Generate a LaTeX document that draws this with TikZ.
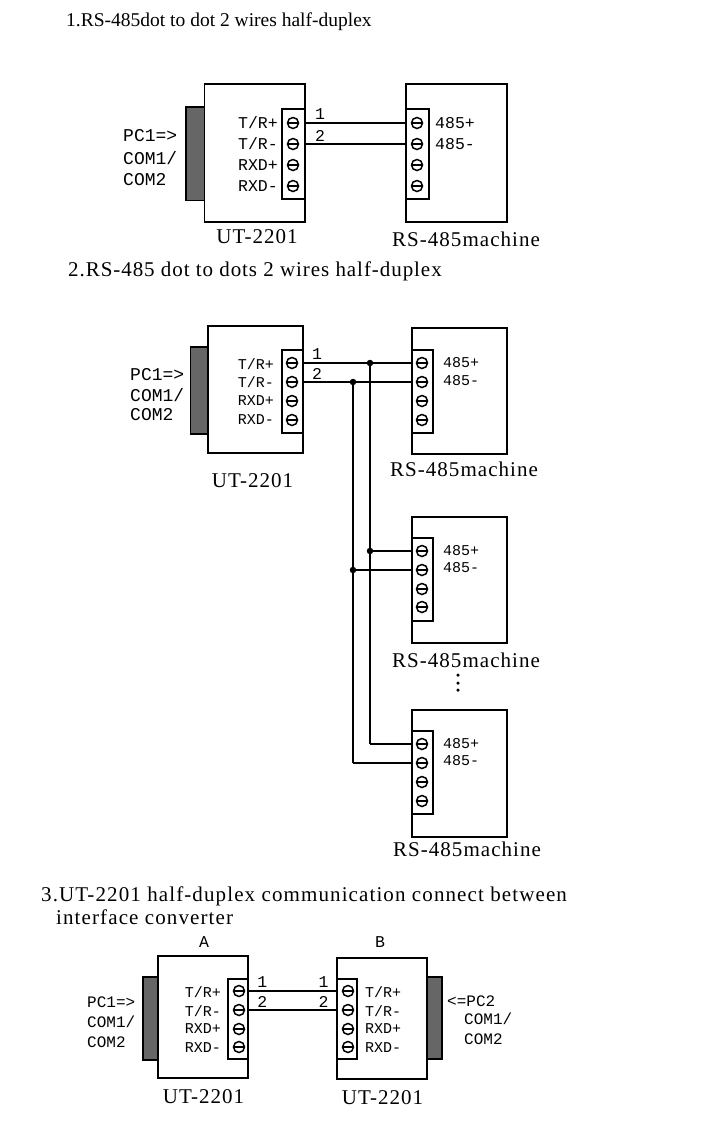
\documentclass[tikz,border=0pt]{standalone}
\usepackage{fontspec}
\setmainfont{Liberation Serif}
\setmonofont{Liberation Mono}
\usepackage{tikz}
\usetikzlibrary{arrows}
\tikzset{
  box/.style={draw, line width=1.6pt, fill=white},
  plug/.style={draw, line width=1.4pt, fill=black!60},
  screw/.style={draw, circle, line width=1.5pt, inner sep=0pt, minimum size=11pt, fill=white,
    path picture={\fill [black] ([yshift=1.3pt]path picture bounding box.west) rectangle ([yshift=-1.3pt]path picture bounding box.east);}},
  wire/.style={line width=1.8pt},
  dot/.style={circle, fill=black, inner sep=0pt, minimum size=6.5pt},
  vdot/.style={circle, fill=black, inner sep=0pt, minimum size=3.5pt},
  lab/.style={font=\ttfamily\fontsize{16.5}{16.5}\selectfont, inner sep=0pt},
  small/.style={font=\ttfamily\fontsize{15}{15}\selectfont, inner sep=0pt},
  pclab/.style={font=\ttfamily\fontsize{18}{18}\selectfont, inner sep=0pt, anchor=west},
  pcsmall/.style={font=\ttfamily\fontsize{16}{16}\selectfont, inner sep=0pt, anchor=west},
  title/.style={font=\fontsize{21}{21}\selectfont\addfontfeature{LetterSpace=5}, inner sep=0pt},
  head/.style={font=\fontsize{21}{21}\selectfont\addfontfeature{LetterSpace=4.5}, inner sep=0pt, anchor=base west},
  headwide/.style={head, font=\fontsize{21}{21}\selectfont\addfontfeature{LetterSpace=5.3}}
}
\begin{document}
\begin{tikzpicture}[x=1pt, y=-1pt]
  \path [use as bounding box] (0,0) rectangle (702,1128);
  % headings
  \node [head, font=\fontsize{19.5}{19.5}\selectfont] (t1) at (66,26) {1.RS-485dot to dot 2 wires half-duplex};
  \node [head] (t2) at (68,276) {2.RS-485 dot to dots 2 wires half-duplex};
  \node [headwide] (t3) at (41,901) {3.UT-2201 half-duplex communication connect between};
  \node [headwide] (t4) at (56,924) {interface converter};
  % first picture
  \draw [plug] (186,107) rectangle (204.5,200.5);
  \draw [box] (204.5,84) rectangle (305,222);
  \draw [box] (282,109) rectangle (305,199);
  \draw [box] (406,84) rectangle (507,222);
  \draw [box] (406,109) rectangle (429,199);
  \foreach \i/\y in {1/123,2/144,3/165,4/186} {
    \node [screw] (a\i) at (293,\y) {};
    \node [screw] (b\i) at (417,\y) {};
  }
  \coordinate (ae1) at (305,123);
  \coordinate (ae2) at (305,144);
  \coordinate (be1) at (406,123);
  \coordinate (be2) at (406,144);
  \draw [wire] (ae1) to node [pos=0.15, above=2.5pt, lab] {1} (be1);
  \draw [wire] (ae2) to node [pos=0.15, above=2pt, lab] {2} (be2);
  \node [lab, anchor=east] (al1) at (278,123) {T/R+};
  \node [lab, anchor=east] (al2) at (278,144) {T/R-};
  \node [lab, anchor=east] (al3) at (278,165) {RXD+};
  \node [lab, anchor=east] (al4) at (278,186) {RXD-};
  \node [lab, anchor=west] (bl1) at (435,123) {485+};
  \node [lab, anchor=west] (bl2) at (435,144) {485-};
  \node [pclab] (pa1) at (123,136) {PC1=>};
  \node [pclab] (pa2) at (123,158) {COM1/};
  \node [pclab] (pa3) at (123,180) {COM2};
  \node [title] (ca) at (257,237) {UT-2201};
  \node [title] (cb) at (466,239) {RS-485machine};
  % second picture
  \draw [plug] (190.5,347) rectangle (208,434);
  \draw [box] (208,326) rectangle (303,453);
  \draw [box] (282,350) rectangle (303,433);
  \draw [box] (412,328) rectangle (507,454);
  \draw [box] (412,350) rectangle (433,433);
  \draw [box] (412,517) rectangle (507,643);
  \draw [box] (412,538) rectangle (433,621);
  \draw [box] (412,710) rectangle (507,837);
  \draw [box] (412,731) rectangle (433,814);
  \foreach \i/\y in {1/363,2/382,3/401,4/420} {
    \node [screw] (c\i) at (292,\y) {};
    \node [screw] (d\i) at (422,\y) {};
  }
  \foreach \i/\y in {1/551,2/570,3/589,4/607} {
    \node [screw] (e\i) at (422,\y) {};
  }
  \foreach \i/\y in {1/744,2/763,3/782,4/801} {
    \node [screw] (f\i) at (422,\y) {};
  }
  \coordinate (ce1) at (303,363);
  \coordinate (ce2) at (303,382);
  \coordinate (de1) at (412,363);
  \coordinate (de2) at (412,382);
  \coordinate (ee1) at (412,551);
  \coordinate (ee2) at (412,570);
  \coordinate (fe1) at (412,744);
  \coordinate (fe2) at (412,763);
  \node [dot] (j1) at (370,363) {};
  \node [dot] (j2) at (353,382) {};
  \node [dot] (j3) at (370,551) {};
  \node [dot] (j4) at (353,570) {};
  \coordinate (k1) at (370,744);
  \coordinate (k2) at (353,763);
  \draw [wire] (ce1) to node [pos=0.13, above=3pt, lab] {1} (de1);
  \draw [wire] (ce2) to node [pos=0.13, above=2pt, lab] {2} (de2);
  \draw [wire] (j1) to (j3);
  \draw [wire] (j2) to (j4);
  \draw [wire] (j3) to (ee1);
  \draw [wire] (j4) to (ee2);
  \draw [wire] (j3) to (k1);
  \draw [wire] (j4) to (k2);
  \draw [wire] (k1) to (fe1);
  \draw [wire] (k2) to (fe2);
  \node [small, anchor=east] (cl1) at (274,364) {T/R+};
  \node [small, anchor=east] (cl2) at (274,382) {T/R-};
  \node [small, anchor=east] (cl3) at (274,401) {RXD+};
  \node [small, anchor=east] (cl4) at (274,420) {RXD-};
  \node [small, anchor=west] (dl1) at (443,363) {485+};
  \node [small, anchor=west] (dl2) at (443,381) {485-};
  \node [small, anchor=west] (el1) at (443,551) {485+};
  \node [small, anchor=west] (el2) at (443,568) {485-};
  \node [small, anchor=west] (fl1) at (443,744) {485+};
  \node [small, anchor=west] (fl2) at (443,761) {485-};
  \node [pclab] (pc1) at (130,375) {PC1=>};
  \node [pclab] (pc2) at (130,395) {COM1/};
  \node [pclab] (pc3) at (130,415) {COM2};
  \node [title] (cc) at (252.5,481) {UT-2201};
  \node [title] (cd) at (464,469) {RS-485machine};
  \node [title] (ce) at (466,660) {RS-485machine};
  \node [title] (cf) at (467,849) {RS-485machine};
  \node [vdot] (v1) at (458,675) {};
  \node [vdot] (v2) at (458,683) {};
  \node [vdot] (v3) at (458,690) {};
  % third picture
  \draw [plug] (143,977) rectangle (158,1060);
  \draw [box] (158,956) rectangle (248,1078);
  \draw [box] (228,979) rectangle (248,1059);
  \draw [plug] (427,977) rectangle (442,1059);
  \draw [box] (337,958) rectangle (427,1079);
  \draw [box] (337,979) rectangle (357,1059);
  \foreach \i/\y in {1/991,2/1010,3/1029,4/1047} {
    \node [screw] (g\i) at (239,\y) {};
    \node [screw] (h\i) at (348,\y) {};
  }
  \coordinate (ge1) at (248,991);
  \coordinate (ge2) at (248,1010);
  \coordinate (he1) at (337,991);
  \coordinate (he2) at (337,1010);
  \draw [wire] (ge1) to node [pos=0.16, above=3pt, lab] {1} node [pos=0.85, above=3pt, lab] {1} (he1);
  \draw [wire] (ge2) to node [pos=0.16, above=2pt, lab] {2} node [pos=0.85, above=2pt, lab] {2} (he2);
  \node [small, anchor=east] (gl1) at (221,992) {T/R+};
  \node [small, anchor=east] (gl2) at (221,1011) {T/R-};
  \node [small, anchor=east] (gl3) at (221,1029) {RXD+};
  \node [small, anchor=east] (gl4) at (221,1048) {RXD-};
  \node [small, anchor=west] (hl1) at (365,992) {T/R+};
  \node [small, anchor=west] (hl2) at (365,1011) {T/R-};
  \node [small, anchor=west] (hl3) at (365,1029) {RXD+};
  \node [small, anchor=west] (hl4) at (365,1048) {RXD-};
  \node [pcsmall] (pg1) at (87,1002) {PC1=>};
  \node [pcsmall] (pg2) at (87,1022) {COM1/};
  \node [pcsmall] (pg3) at (87,1042) {COM2};
  \node [pcsmall] (ph1) at (447,1001) {<=PC2};
  \node [pcsmall] (ph2) at (464,1019) {COM1/};
  \node [pcsmall] (ph3) at (464,1039) {COM2};
  \node [lab] (na) at (204,942) {A};
  \node [lab] (nb) at (380,942) {B};
  \node [title] (cg) at (203.5,1097) {UT-2201};
  \node [title] (ch) at (382.5,1098) {UT-2201};
\end{tikzpicture}
\end{document}
